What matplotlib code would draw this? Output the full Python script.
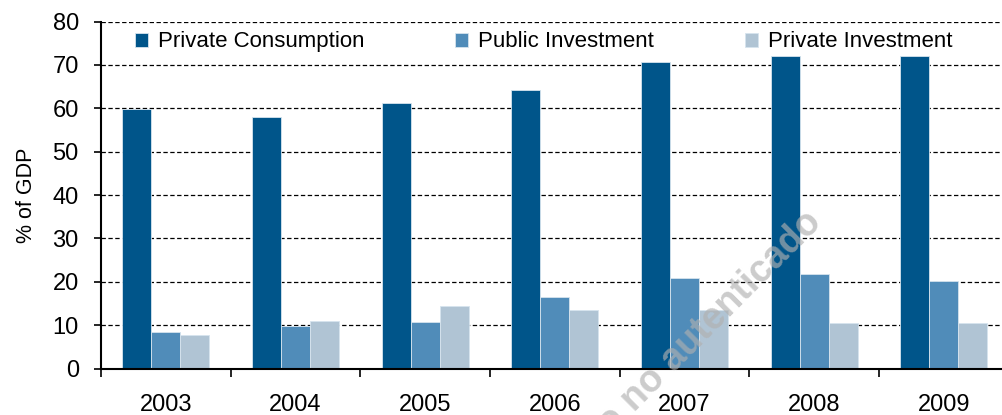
import matplotlib.pyplot as plt
import numpy as np

plt.rcParams['font.family'] = ['Liberation Sans', 'DejaVu Sans']

years = ['2003', '2004', '2005', '2006', '2007', '2008', '2009']
private_consumption = [59.8, 58.0, 61.2, 64.3, 70.6, 72.0, 72.0]
public_investment = [8.5, 9.7, 10.8, 16.6, 20.9, 21.7, 20.2]
private_investment = [7.8, 10.9, 14.4, 13.6, 13.6, 10.5, 10.5]

series = [
    ('Private Consumption', private_consumption, '#00558A'),
    ('Public Investment', public_investment, '#508CB9'),
    ('Private Investment', private_investment, '#B0C4D4'),
]

fig = plt.figure(figsize=(10.03, 4.15), dpi=100)
ax = fig.add_axes([0.1007, 0.112, 0.905, 0.836])

x = np.arange(len(years))
width = 0.224
for i, (label, values, color) in enumerate(series):
    ax.bar(x + (i - 1) * width, values, width, color=color, edgecolor='#d6e4ee',
           linewidth=0.6, label=label, zorder=3)

ax.set_xlim(-0.5, len(years) - 0.5)
ax.set_ylim(0, 80)
ax.set_yticks(np.arange(0, 81, 10))

# Gitternetz
ax.yaxis.grid(True, color='black', linestyle=(0, (3.5, 2)), linewidth=0.9, zorder=1)
ax.set_axisbelow(True)

for side in ['top', 'right']:
    ax.spines[side].set_visible(False)
for side in ['left', 'bottom']:
    ax.spines[side].set_linewidth(1.5)
    ax.spines[side].set_zorder(4)

ax.set_xticks(x)
ax.set_xticklabels(years)
ax.set_xticks(np.arange(-0.5, len(years) - 0.5, 1.0), minor=True)
ax.tick_params(axis='x', which='major', length=0, pad=18, labelsize=17)
ax.tick_params(axis='x', which='minor', length=6, width=1.2, direction='out')
ax.tick_params(axis='y', length=5, width=1.2, direction='out', pad=11, labelsize=17)

ax.set_ylabel('% of GDP', fontsize=15.5, labelpad=11)

ax.legend(loc='upper left', bbox_to_anchor=(0.0223, 1.01), ncol=3, frameon=False,
          fontsize=16, handlelength=0.6, handleheight=0.6, handletextpad=0.45,
          columnspacing=4.07, borderaxespad=0.2)

# Wasserzeichen
fig.text(816 / 1003, 1 - 217 / 415, 'Documento no autenticado', rotation=45,
         ha='right', va='center', rotation_mode='anchor', fontsize=27, fontweight='bold',
         color='#b0b0b0', alpha=0.65, zorder=10)

plt.savefig('out.png', dpi=100)
